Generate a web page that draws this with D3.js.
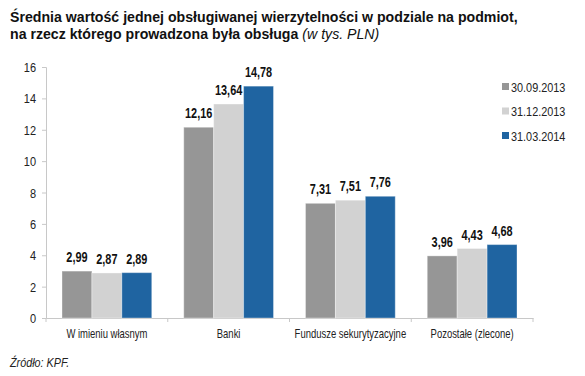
<!DOCTYPE html>
<html>
<head>
<meta charset="utf-8">
<script src="https://cdn.jsdelivr.net/npm/d3@7"></script>
<style>
  body { margin: 0; background: #fff; }
  svg text { font-family: "Liberation Sans", Arial, sans-serif; }
</style>
</head>
<body>
<script>
// dane z wykresu (w tys. PLN)
var categories = ["W imieniu własnym", "Banki", "Fundusze sekurytyzacyjne", "Pozostałe (zlecone)"];
var seriesNames = ["30.09.2013", "31.12.2013", "31.03.2014"];
var v2013q3 = [2.99, 12.16, 7.31, 3.96];
var v2013q4 = [2.87, 13.64, 7.51, 4.43];
var v2014q1 = [2.89, 14.78, 7.76, 4.68];
var yTicks = [0, 2, 4, 6, 8, 10, 12, 14, 16];
var colors = ["#969696", "#d2d2d2", "#1f64a1"];

var allSeries = [v2013q3, v2013q4, v2014q1];
var width = 585, height = 376;
var mLeft = 46, mRight = 533, mTop = 67, mBottom = 318;

var svg = d3.select("body").append("svg")
  .attr("width", width)
  .attr("height", height);

// tytul
svg.append("text")
  .attr("x", 10).attr("y", 22)
  .style("font-size", "14.15px").style("font-weight", "bold").attr("fill", "#111")
  .text("Średnia wartość jednej obsługiwanej wierzytelności w podziale na podmiot,");
var t2 = svg.append("text")
  .attr("x", 10).attr("y", 39)
  .style("font-size", "14.15px").style("font-weight", "bold").attr("fill", "#111");
t2.append("tspan").text("na rzecz którego prowadzona była obsługa ");
t2.append("tspan").style("font-weight", "normal").style("font-style", "italic").text("(w tys. PLN)");

var x0 = d3.scaleBand().domain(categories).range([mLeft, mRight]);
var x1 = d3.scaleBand().domain(seriesNames).range([16, x0.bandwidth() - 16]);
var y = d3.scaleLinear().domain([0, 16]).range([mBottom, mTop]);

// os Y
var yAxis = svg.append("g")
  .attr("transform", "translate(" + mLeft + ",0)")
  .call(d3.axisLeft(y).tickValues(yTicks).tickSize(4).tickPadding(5).tickFormat(d3.format("d")));
yAxis.selectAll("path,line").attr("stroke", "#c8c8c8");
yAxis.selectAll(".tick text")
  .attr("x", 0).attr("dy", null).attr("y", 0)
  .attr("transform", "translate(-10,4.5) scale(0.88,1)")
  .style("font-size", "12.5px").attr("fill", "#222");

// os X
var xAxis = svg.append("g")
  .attr("transform", "translate(0," + mBottom + ")")
  .call(d3.axisBottom(x0).tickSize(0).tickPadding(10));
xAxis.select(".domain").attr("stroke", "#c8c8c8");
xAxis.selectAll(".tick text")
  .attr("y", 0).attr("dy", null)
  .attr("transform", "translate(0,19.5) scale(0.79,1)")
  .style("font-size", "12px").attr("fill", "#222");
var bounds = categories.map(function(c) { return x0(c); }).concat([mRight]);
svg.selectAll(".sep").data(bounds).enter().append("line")
  .attr("x1", function(d) { return d; }).attr("x2", function(d) { return d; })
  .attr("y1", mBottom).attr("y2", mBottom + 4)
  .attr("stroke", "#c8c8c8");

// slupki
var groups = svg.selectAll(".grp").data(categories).enter().append("g")
  .attr("transform", function(d) { return "translate(" + x0(d) + ",0)"; });

groups.selectAll("rect")
  .data(function(d, i) { return allSeries.map(function(s, j) { return {name: seriesNames[j], value: s[i], k: j}; }); })
  .enter().append("rect")
  .attr("x", function(d) { return x1(d.name); })
  .attr("width", x1.bandwidth())
  .attr("y", function(d) { return y(d.value); })
  .attr("height", function(d) { return mBottom - y(d.value); })
  .attr("fill", function(d) { return colors[d.k]; })
  .attr("stroke", "#fff").attr("stroke-opacity", 0.35).attr("stroke-width", 1);

groups.selectAll(".lbl")
  .data(function(d, i) { return allSeries.map(function(s, j) { return {name: seriesNames[j], value: s[i]}; }); })
  .enter().append("text")
  .attr("transform", function(d) {
    return "translate(" + (x1(d.name) + x1.bandwidth() / 2) + "," + (y(d.value) - 9) + ") scale(0.78,1)";
  })
  .attr("text-anchor", "middle")
  .style("font-size", "14px").style("font-weight", "bold").attr("fill", "#111")
  .text(function(d) { return d3.format(".2f")(d.value).replace(".", ","); });

// legenda
var legend = svg.selectAll(".leg").data(seriesNames).enter().append("g")
  .attr("transform", function(d, i) { return "translate(502," + (87 + i * 24.5) + ")"; });
legend.append("rect").attr("x", 0).attr("y", -4).attr("width", 7).attr("height", 7)
  .attr("fill", function(d, i) { return colors[i]; });
legend.append("text")
  .attr("transform", "translate(9,4.5) scale(0.87,1)")
  .style("font-size", "12.5px").attr("fill", "#222")
  .text(function(d) { return d; });

// zrodlo
svg.append("text")
  .attr("transform", "translate(10,367) scale(0.9,1)")
  .style("font-size", "12px").style("font-style", "italic").attr("fill", "#222")
  .text("Źródło: KPF.");
</script>
</body>
</html>
